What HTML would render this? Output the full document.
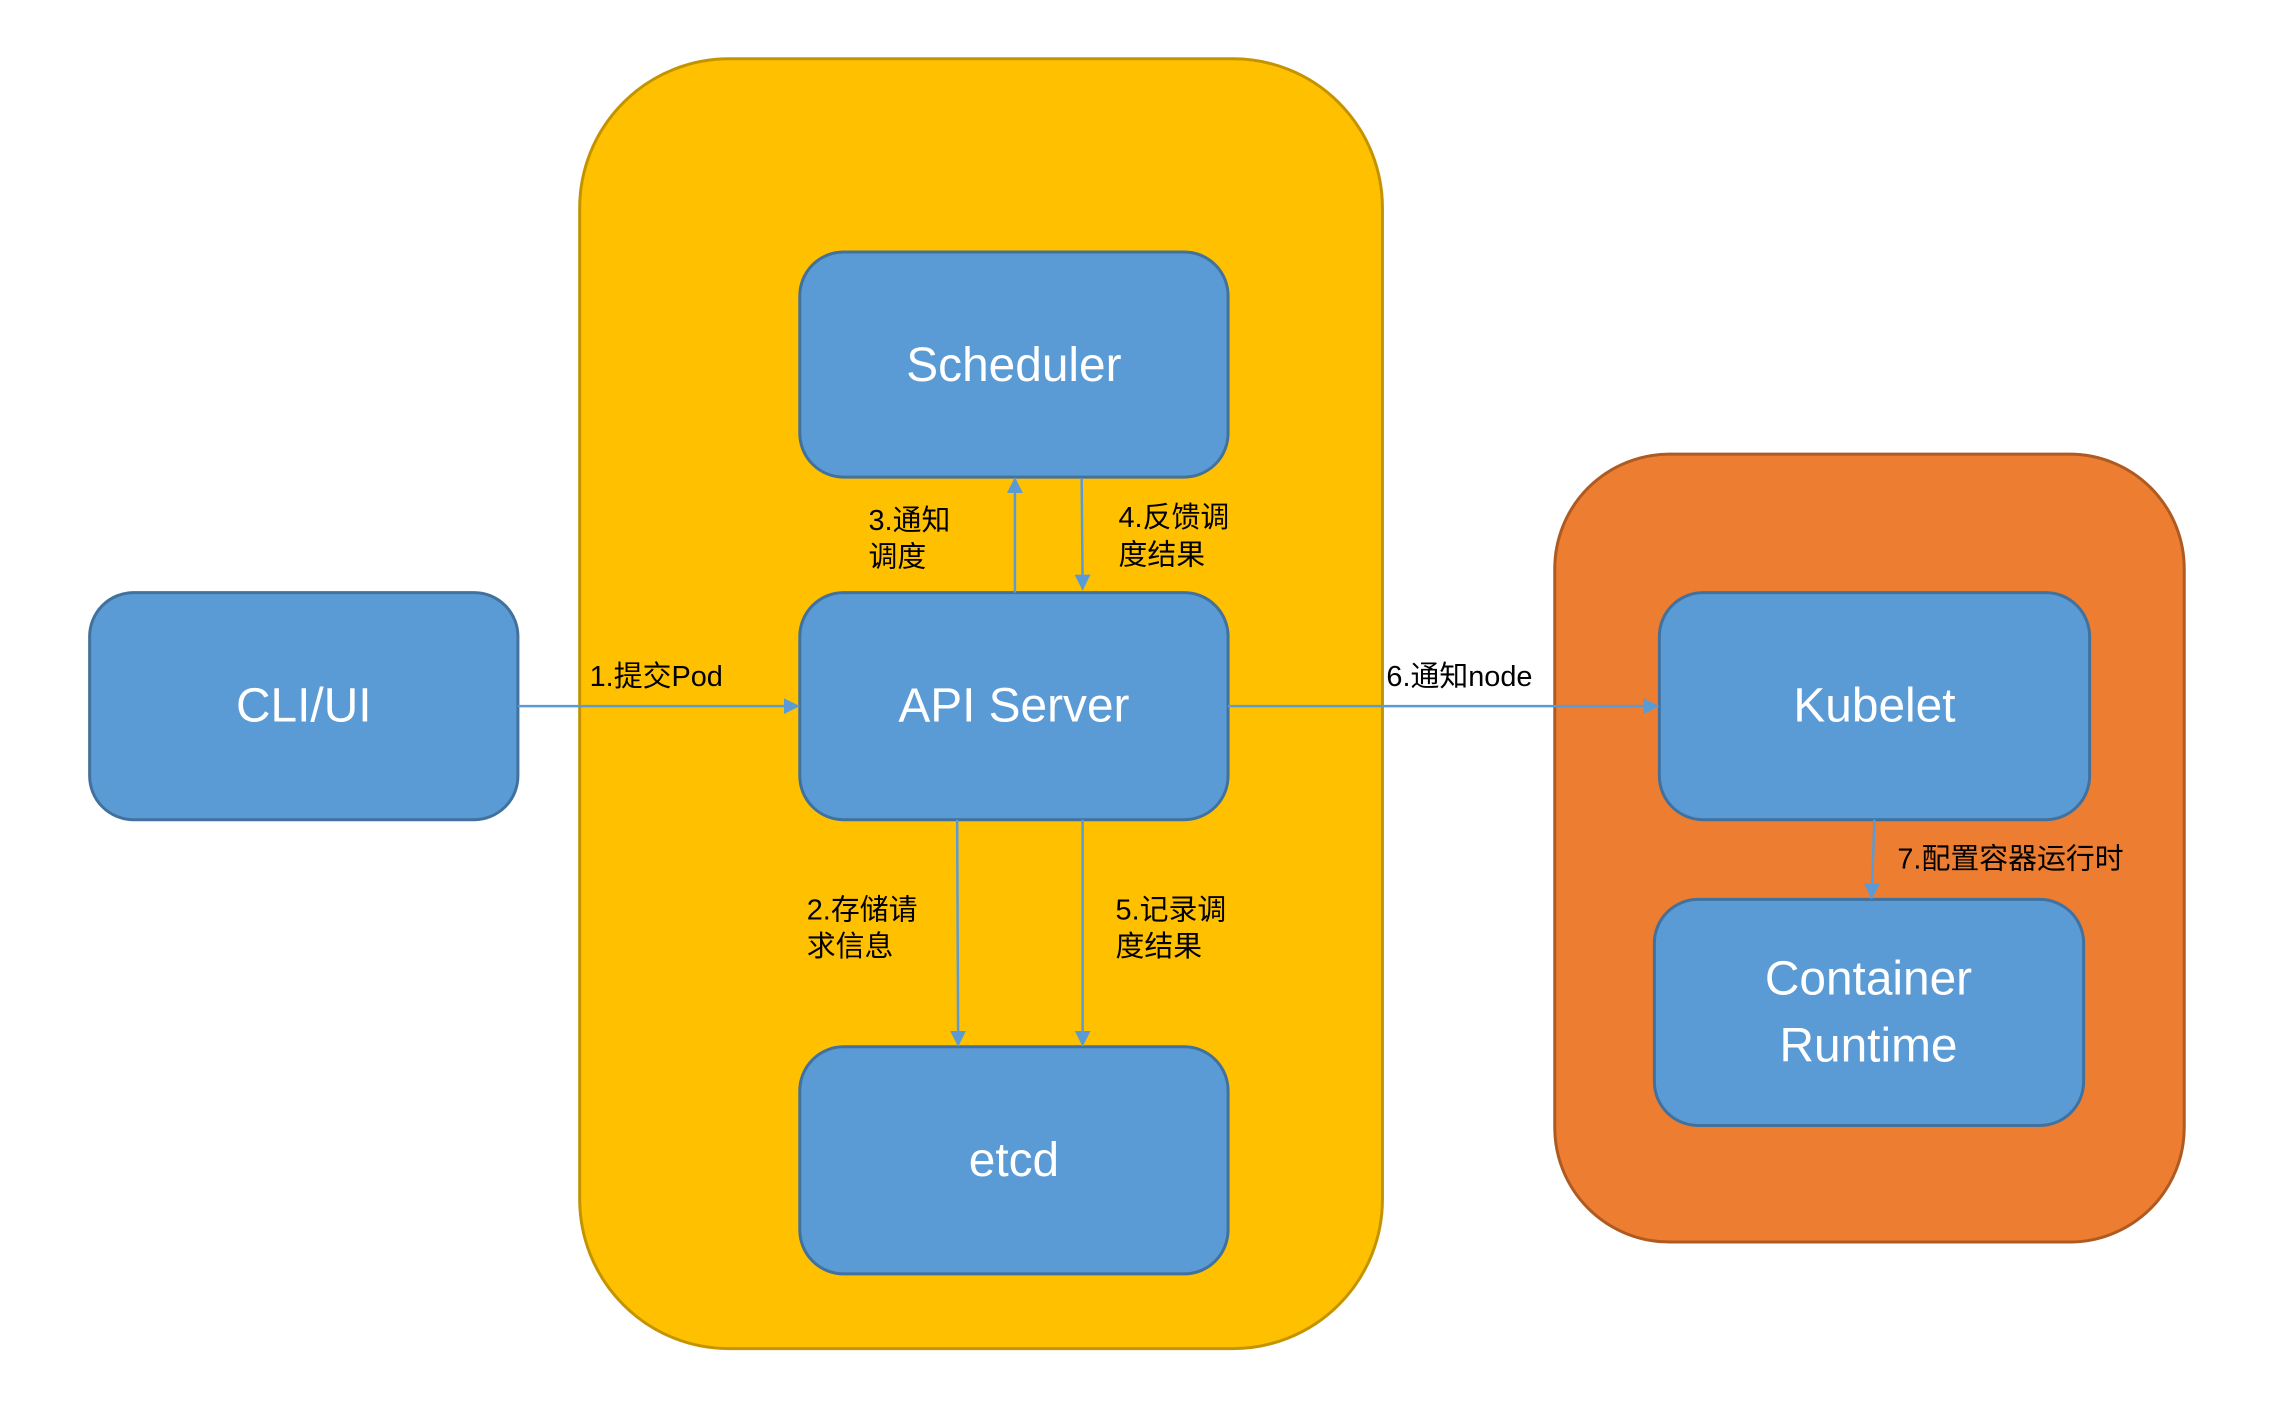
<!DOCTYPE html>
<html><head><meta charset="utf-8"><style>
html,body{margin:0;padding:0;background:#fff;}
svg{display:block;}
.b{font-family:"Liberation Sans","Noto Sans CJK SC",sans-serif;font-size:48px;fill:#fff;text-anchor:middle;dominant-baseline:central;}
.l{font-family:"Liberation Sans","Noto Sans CJK SC",sans-serif;font-size:29px;fill:#000;}
</style></head><body>
<svg width="2294" height="1418" viewBox="0 0 2294 1418" xmlns="http://www.w3.org/2000/svg">
<defs>
<marker id="a" markerWidth="16" markerHeight="16" refX="15" refY="8" orient="auto" markerUnits="userSpaceOnUse" viewBox="0 0 16 16">
<path d="M0,0 L16,8 L0,16 z" fill="#5B9BD5"/></marker>
</defs>
<g transform="scale(0.996)">
<rect x="582" y="59" width="806" height="1295" rx="150" fill="#FFC000" stroke="#C49400" stroke-width="3"/>
<rect x="1561" y="456" width="632" height="791" rx="115" fill="#ED7D31" stroke="#AE5A21" stroke-width="3"/>
<g fill="#5B9BD5" stroke="#41719C" stroke-width="3">
<rect x="90" y="595" width="430" height="228" rx="44"/>
<rect x="803" y="253" width="430" height="226" rx="44"/>
<rect x="803" y="595" width="430" height="228" rx="44"/>
<rect x="803" y="1051" width="430" height="228" rx="44"/>
<rect x="1666" y="595" width="432" height="228" rx="44"/>
<rect x="1661" y="903" width="431" height="227" rx="44"/>
</g>
<text class="b" x="305" y="709">CLI/UI</text>
<text class="b" x="1018" y="367">Scheduler</text>
<text class="b" x="1018" y="709">API Server</text>
<text class="b" x="1018" y="1165">etcd</text>
<text class="b" x="1882" y="709">Kubelet</text>
<text class="b" x="1876" y="983">Container</text>
<text class="b" x="1876" y="1050">Runtime</text>
<g stroke="#5B9BD5" stroke-width="2.5" fill="none">
<line x1="520" y1="709" x2="802" y2="709" marker-end="url(#a)"/>
<line x1="1019" y1="595" x2="1019" y2="480" marker-end="url(#a)"/>
<line x1="1086" y1="480" x2="1087" y2="592" marker-end="url(#a)"/>
<line x1="961" y1="823" x2="962" y2="1050" marker-end="url(#a)"/>
<line x1="1087" y1="823" x2="1087" y2="1050" marker-end="url(#a)"/>
<line x1="1233" y1="709" x2="1665" y2="709" marker-end="url(#a)"/>
<line x1="1882" y1="823" x2="1879" y2="902" marker-end="url(#a)"/>
</g>
<text class="l" x="592" y="689">1.提交Pod</text>
<text class="l" x="872" y="532">3.通知</text>
<text class="l" x="872" y="569">调度</text>
<text class="l" x="1123" y="529">4.反馈调</text>
<text class="l" x="1123" y="567">度结果</text>
<text class="l" x="810" y="923">2.存储请</text>
<text class="l" x="810" y="960">求信息</text>
<text class="l" x="1120" y="923">5.记录调</text>
<text class="l" x="1120" y="960">度结果</text>
<text class="l" x="1392" y="689">6.通知node</text>
<text class="l" x="1905" y="872">7.配置容器运行时</text>
</g>
</svg>
</body></html>
